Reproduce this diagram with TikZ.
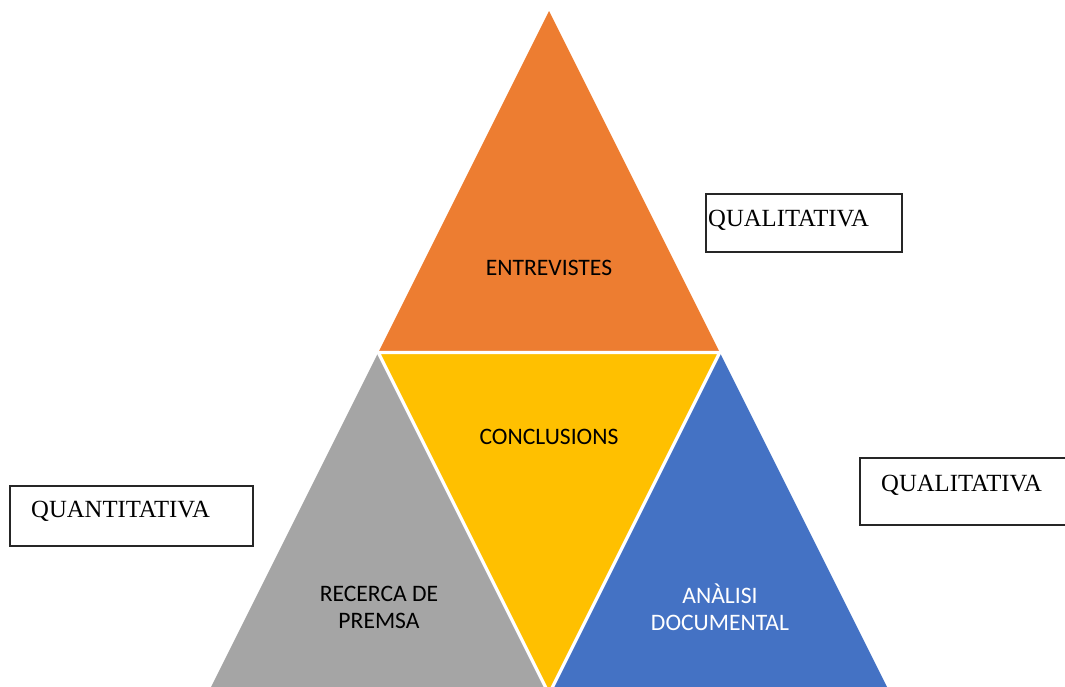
\documentclass[tikz,border=0pt]{standalone}
\usepackage{fontspec}
\setmainfont{Liberation Serif}
\newfontfamily\calib{Carlito}
\definecolor{orng}{HTML}{ED7D31}
\definecolor{yllw}{HTML}{FFC000}
\definecolor{gry}{HTML}{A5A5A5}
\definecolor{blu}{HTML}{4472C4}
\begin{document}
\begin{tikzpicture}[x=1pt,y=-1pt,
  tri/.style={draw=white,line width=3.2pt,line join=miter},
  lbl/.style={font=\calib\fontsize{23.6}{27}\selectfont,align=center,inner sep=0pt},
  box/.style={draw=black!85,line width=1.3pt},
  boxtxt/.style={font=\fontsize{24.7}{28}\selectfont,anchor=base west,inner sep=0pt}]
\useasboundingbox (0,0) rectangle (1065,686);
\coordinate (A) at (549,11);
\coordinate (L) at (207.5,694);
\coordinate (R) at (890.5,694);
\coordinate (ML) at (378.25,352.5);
\coordinate (MR) at (719.75,352.5);
\coordinate (MB) at (549,694);
\begin{scope}
\clip (0,0) rectangle (1065,686);
\fill[orng] (A) -- (ML) -- (MR) -- cycle;
\fill[yllw] (ML) -- (MR) -- (MB) -- cycle;
\fill[gry] (ML) -- (L) -- (MB) -- cycle;
\fill[blu] (MR) -- (MB) -- (R) -- cycle;
\draw[tri] (ML) -- (MR) -- (MB) -- cycle;
\end{scope}
\node[lbl] (t1) at (549,268) {ENTREVISTES};
\node[lbl] (t2) at (549,437) {CONCLUSIONS};
\node[lbl] (t3) at (379,607) {RECERCA DE\\PREMSA};
\node[lbl,text=white] (t4) at (720,607) {ANÀLISI\\DOCUMENTAL};
\draw[box] (706,194) rectangle (902,252);
\node[boxtxt] (b1) at (708,226) {QUALITATIVA};
\draw[box] (860,458) rectangle (1070,525);
\node[boxtxt] (b2) at (881,491) {QUALITATIVA};
\draw[box] (10,486) rectangle (253,546);
\node[boxtxt] (b3) at (31,517) {QUANTITATIVA};
\end{tikzpicture}
\end{document}
